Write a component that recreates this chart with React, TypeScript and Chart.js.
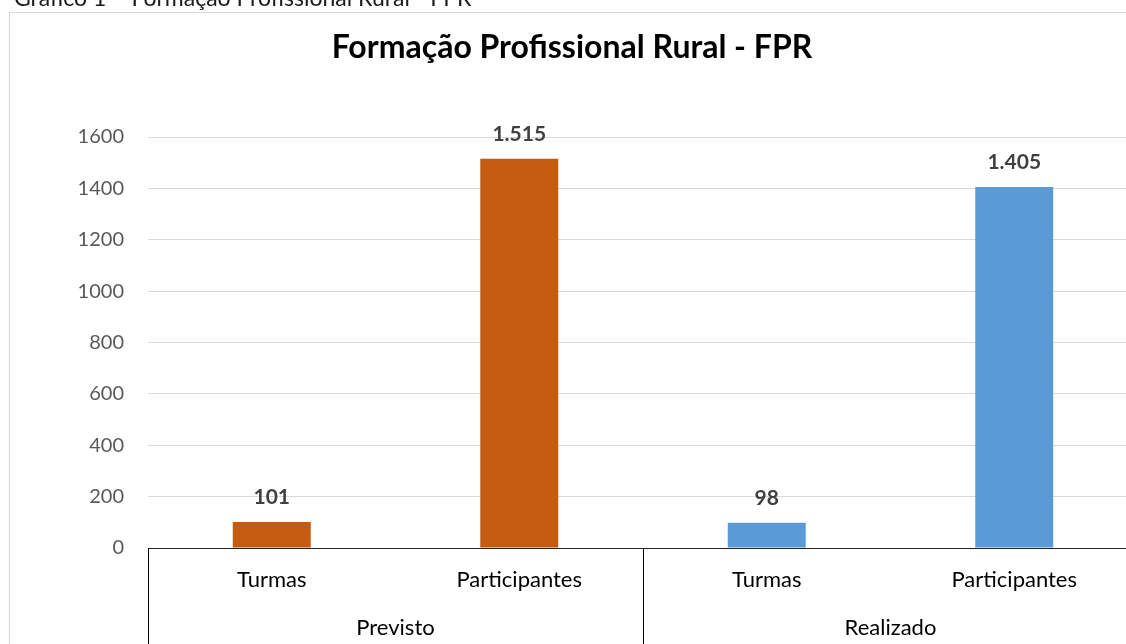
import React, { useEffect, useRef } from "react";
import { Chart, registerables } from "chart.js";

Chart.register(...registerables);

const categories = ["Turmas", "Participantes", "Turmas", "Participantes"];
const groups = ["Previsto", "Realizado"];
const previsto = [101, 1515, null, null];
const realizado = [null, null, 98, 1405];
const yMin = 0;
const yMax = 1600;
const yStep = 200;
const chartTitle = "Formação Profissional Rural - FPR";
const headerText = "Gráfico 1 – Formação Profissional Rural - FPR";

const FONT = "Lato, 'Open Sans', sans-serif";

function fmt(v: number) {
  return String(v).replace(/\B(?=(\d{3})+(?!\d))/g, ".");
}

const decoPlugin = {
  id: "deco",
  beforeDraw(chart: any) {
    const ctx = chart.ctx;
    ctx.save();
    ctx.fillStyle = "#ffffff";
    ctx.fillRect(0, 0, chart.width, chart.height);
    ctx.strokeStyle = "#d9d9d9";
    ctx.lineWidth = 1;
    ctx.strokeRect(9.5, 12.5, 1135, 700);
    ctx.fillStyle = "#1a1a1a";
    ctx.font = `23px ${FONT}`;
    ctx.textAlign = "left";
    ctx.textBaseline = "alphabetic";
    ctx.fillText(headerText, 14, 6);
    ctx.fillStyle = "#000000";
    ctx.font = `bold 32px ${FONT}`;
    ctx.textAlign = "center";
    ctx.textBaseline = "middle";
    ctx.fillText(chartTitle, 572, 48);
    ctx.restore();
  },
  afterDraw(chart: any) {
    const ctx = chart.ctx;
    const xs = chart.scales.x;
    const area = chart.chartArea;
    ctx.save();
    ctx.strokeStyle = "#262626";
    ctx.lineWidth = 1;
    ctx.beginPath();
    ctx.moveTo(area.left, Math.round(area.bottom) + 0.5);
    ctx.lineTo(area.right, Math.round(area.bottom) + 0.5);
    ctx.stroke();
    const seps = [area.left, (xs.getPixelForValue(1) + xs.getPixelForValue(2)) / 2, area.right];
    ctx.strokeStyle = "#000000";
    seps.forEach((sx) => {
      ctx.beginPath();
      ctx.moveTo(Math.round(sx) + 0.5, Math.round(area.bottom));
      ctx.lineTo(Math.round(sx) + 0.5, chart.height);
      ctx.stroke();
    });
    ctx.fillStyle = "#000000";
    ctx.font = `22px ${FONT}`;
    ctx.textAlign = "center";
    ctx.textBaseline = "middle";
    categories.forEach((c, i) => {
      ctx.fillText(c, xs.getPixelForValue(i), area.bottom + 32);
    });
    groups.forEach((g, gi) => {
      const cx = (xs.getPixelForValue(gi * 2) + xs.getPixelForValue(gi * 2 + 1)) / 2;
      ctx.fillText(g, cx, area.bottom + 80);
    });
    ctx.fillStyle = "#404040";
    ctx.font = `bold 21px ${FONT}`;
    chart.data.datasets.forEach((ds: any, di: number) => {
      const meta = chart.getDatasetMeta(di);
      meta.data.forEach((bar: any, i: number) => {
        const v = ds.data[i];
        if (v === null || v === undefined) return;
        ctx.fillText(fmt(v), bar.x, bar.y - 25);
      });
    });
    ctx.restore();
  },
};

export default function App() {
  const ref = useRef<HTMLCanvasElement>(null);
  useEffect(() => {
    if (!ref.current) return;
    const chart = new Chart(ref.current, {
      type: "bar",
      data: {
        labels: categories,
        datasets: [
          {
            label: groups[0],
            data: previsto,
            backgroundColor: "#C55A11",
            barPercentage: 0.315,
            categoryPercentage: 1,
            grouped: false,
          },
          {
            label: groups[1],
            data: realizado,
            backgroundColor: "#5B9BD5",
            barPercentage: 0.315,
            categoryPercentage: 1,
            grouped: false,
          },
        ] as any,
      },
      options: {
        animation: false,
        responsive: false,
        maintainAspectRatio: false,
        layout: { padding: { left: 0, top: 137, right: 22, bottom: 0 } },
        plugins: {
          legend: { display: false },
          title: { display: false },
          tooltip: { enabled: false },
        },
        scales: {
          x: {
            type: "category",
            offset: true,
            grid: { display: false },
            border: { display: false },
            ticks: { display: false },
            afterFit: (s: any) => {
              s.height = 132;
            },
          },
          y: {
            min: yMin,
            max: yMax,
            grid: { color: "#d9d9d9", lineWidth: 1, drawTicks: false },
            border: { display: false },
            ticks: {
              stepSize: yStep,
              padding: 24,
              color: "#595959",
              font: { family: FONT, size: 20 },
              callback: (v: any) => String(v),
            },
            afterFit: (s: any) => {
              s.width = 148;
            },
          },
        },
      } as any,
      plugins: [decoPlugin],
    });
    return () => chart.destroy();
  }, []);
  return (
    <div
      style={{
        position: "fixed",
        left: 0,
        top: 0,
        width: 1126,
        height: 644,
        overflow: "hidden",
        background: "#fff",
      }}
    >
      <canvas ref={ref} width={1160} height={680} style={{ width: 1160, height: 680, display: "block" }} />
    </div>
  );
}
